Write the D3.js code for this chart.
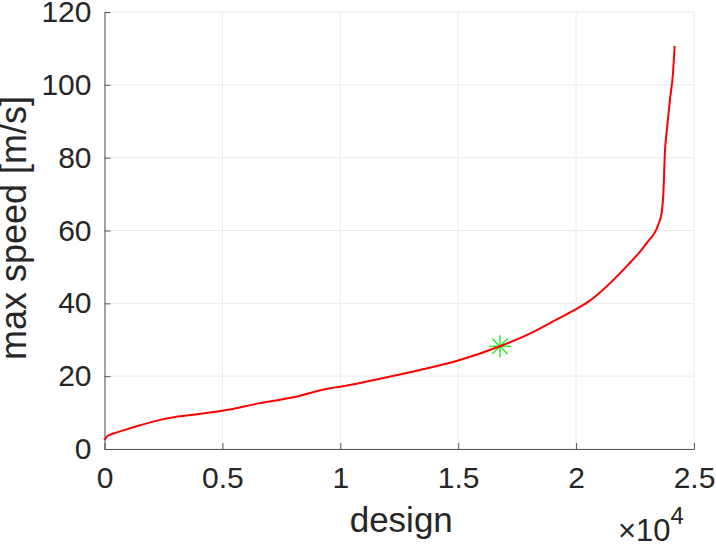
<!DOCTYPE html>
<meta charset="utf-8">
<script src="https://d3js.org/d3.v7.min.js"></script>
<style>
  body { margin: 0; background: #fff; }
  text { font-family: "Liberation Sans", Arial, sans-serif; fill: #262626; }
</style>
<body>
<div id="chart"></div>
<script>
// values
var design = [0, 100, 230, 500, 940, 1500, 2360, 3000, 3770, 5000, 6600, 8000, 9560, 10000,
              11680, 13380, 15000, 16770, 18040, 19300, 20000, 20600, 21000, 22150, 22850,
              23000, 23490, 23630, 23700, 23770, 23840, 23980, 24100, 24180];
var speed = [2.5, 3.4, 3.9, 4.5, 5.4, 6.5, 8.0, 8.8, 9.4, 10.5, 12.6, 14.2, 16.7, 17.1,
             19.3, 21.7, 24.3, 28.2, 31.7, 36.0, 38.4, 40.8, 42.9, 50.2, 55.3,
             56.6, 61.7, 65.0, 70.0, 82.0, 87.0, 96.0, 102.5, 110.7];
var marker = {design: 16770, speed: 28.2};
var xTicks = [0, 5000, 10000, 15000, 20000, 25000];
var xTickLabels = ["0", "0.5", "1", "1.5", "2", "2.5"];
var yTicks = [0, 20, 40, 60, 80, 100, 120];

var margin = {top: 12, right: 22, bottom: 96, left: 104.5},
    width = 716 - margin.left - margin.right,
    height = 545 - margin.top - margin.bottom;

var svg = d3.select("#chart")
  .append("svg")
    .attr("width", 716)
    .attr("height", 545)
  .append("g")
    .attr("transform", "translate(" + margin.left + "," + margin.top + ")");

var x = d3.scaleLinear().domain([0, 25000]).range([0, width]);
var y = d3.scaleLinear().domain([0, 120]).range([height, 0]);

// grid
svg.append("g").selectAll("line").data(xTicks).enter().append("line")
  .attr("x1", function(d) { return x(d); }).attr("x2", function(d) { return x(d); })
  .attr("y1", 0).attr("y2", height)
  .attr("stroke", "#ebebeb").attr("stroke-width", 1);
svg.append("g").selectAll("line").data(yTicks).enter().append("line")
  .attr("y1", function(d) { return y(d); }).attr("y2", function(d) { return y(d); })
  .attr("x1", 0).attr("x2", width)
  .attr("stroke", "#ebebeb").attr("stroke-width", 1);

// axes, ticks pointing inward like matlab
var xAxis = svg.append("g")
  .attr("transform", "translate(0," + height + ")")
  .call(d3.axisBottom(x).tickValues(xTicks)
    .tickFormat(function(d, i) { return xTickLabels[i]; })
    .tickSizeInner(-6).tickSizeOuter(0).tickPadding(18));
var yAxis = svg.append("g")
  .call(d3.axisLeft(y).tickValues(yTicks).tickSizeInner(-6).tickSizeOuter(0).tickPadding(13));

[xAxis, yAxis].forEach(function(a) {
  a.select(".domain").attr("stroke", "#555");
  a.selectAll(".tick line").attr("stroke", "#555");
  a.selectAll("text").attr("font-size", 30).attr("fill", "#262626")
    .attr("font-family", "Liberation Sans, Arial, sans-serif");
});
xAxis.selectAll("text").attr("dy", "0.71em");

// green asterisk marker
var mx = x(marker.design), my = y(marker.speed), r = 11;
var star = svg.append("g").attr("transform", "translate(" + mx + "," + my + ")");
[0, 45, 90, 135].forEach(function(a) {
  var t = a * Math.PI / 180;
  star.append("line")
    .attr("x1", -r * Math.cos(t)).attr("y1", -r * Math.sin(t))
    .attr("x2", r * Math.cos(t)).attr("y2", r * Math.sin(t))
    .attr("stroke", "#22ee22").attr("stroke-width", 1.4);
});

// the curve
var pts = design.map(function(d, i) { return [d, speed[i]]; });
svg.append("path")
  .datum(pts)
  .attr("fill", "none")
  .attr("stroke", "#ff0000")
  .attr("stroke-width", 2)
  .attr("d", d3.line()
    .x(function(d) { return x(d[0]); })
    .y(function(d) { return y(d[1]); })
    .curve(d3.curveMonotoneX));

// labels
svg.append("text")
  .attr("x", width / 2 + 2)
  .attr("y", height + 83)
  .attr("text-anchor", "middle")
  .attr("font-size", 35)
  .text("design");

svg.append("text")
  .attr("transform", "translate(" + (26 - margin.left) + "," + (228 - margin.top) + ") rotate(-90)")
  .attr("text-anchor", "middle")
  .attr("font-size", 36)
  .text("max speed [m/s]");

var mult = svg.append("text")
  .attr("x", 618 - margin.left)
  .attr("y", 541 - margin.top)
  .attr("font-size", 31);
mult.append("tspan").text("\u00d710");
mult.append("tspan").attr("font-size", 24).attr("dy", -17).text("4");
</script>
</body>
